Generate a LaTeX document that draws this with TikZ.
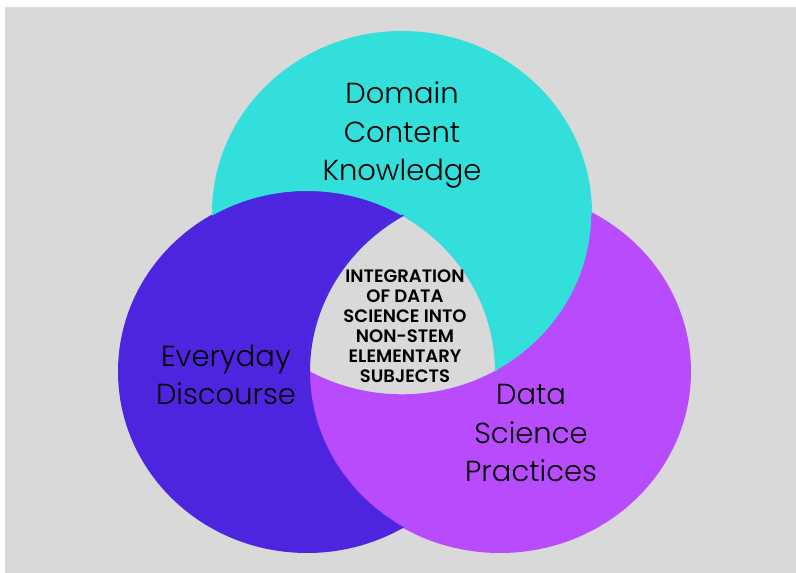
\documentclass[tikz,border=0pt]{standalone}
\usepackage{fontspec}
\setmainfont{Poppins}[UprightFont=* Light, BoldFont=* SemiBold]
\usetikzlibrary{positioning}

\definecolor{domaincyan}{HTML}{33DFDB}
\definecolor{talkblue}{HTML}{4D25DF}
\definecolor{practiceviolet}{HTML}{B84BFB}
\definecolor{canvasgray}{HTML}{D9D9D9}

\tikzset{
  bigtext/.style={align=center, text=black, font=\fontsize{29}{38.5}\selectfont},
  coretext/.style={align=center, text=black, font=\bfseries\fontsize{18}{20}\selectfont},
  seam/.style={line width=1.4pt},
  wideseam/.style={line width=2pt},
}

\newcommand{\domainpath}{(402,360) ellipse [x radius=190pt, y radius=182pt]}
\newcommand{\talkpath}{(307,201.5) ellipse [x radius=189pt, y radius=181.5pt]}
\newcommand{\practicepath}{(500,201.5) ellipse [x radius=191pt, y radius=181.5pt]}

\begin{document}
\begin{tikzpicture}[x=1pt,y=1pt]
            \useasboundingbox (0,0) rectangle (796,573);
            \fill[canvasgray] (5,0) rectangle (796,566);

            % the three sets, each one lying over the next
            \fill[domaincyan] \domainpath;
            \fill[practiceviolet] \practicepath;
            \fill[talkblue] \talkpath;
            \begin{scope}
                \clip \talkpath;
                \fill[practiceviolet] \practicepath;
            \end{scope}
            \begin{scope}
                \clip \practicepath;
                \fill[domaincyan] \domainpath;
            \end{scope}
            % common part stays empty
            \begin{scope}
                \clip \domainpath;
                \clip \talkpath;
                \fill[canvasgray] \practicepath;
            \end{scope}

            % clean inner edges (wider pass goes last)
            \begin{scope}
                \clip \practicepath;
                \draw[seam, practiceviolet] \talkpath;
                \draw[seam, practiceviolet] \domainpath;
            \end{scope}
            \begin{scope}
                \clip \domainpath;
                \draw[wideseam, domaincyan] \talkpath;
                \draw[seam, domaincyan] \practicepath;
            \end{scope}
            \begin{scope}
                \clip \talkpath;
                \draw[wideseam, talkblue] \practicepath;
            \end{scope}

            \node (core) [coretext] at (405,246.5) {INTEGRATION\\OF DATA\\SCIENCE INTO\\NON-STEM\\ELEMENTARY\\SUBJECTS};
            \node (domain) [bigtext] at (402,438) {Domain\\Content\\Knowledge};
            \node (talk) [bigtext] at (226,198) {Everyday\\Discourse};
            \node (practice) [bigtext] at (531,140) {Data\\Science\\Practices};
        \end{tikzpicture}
\end{document}
